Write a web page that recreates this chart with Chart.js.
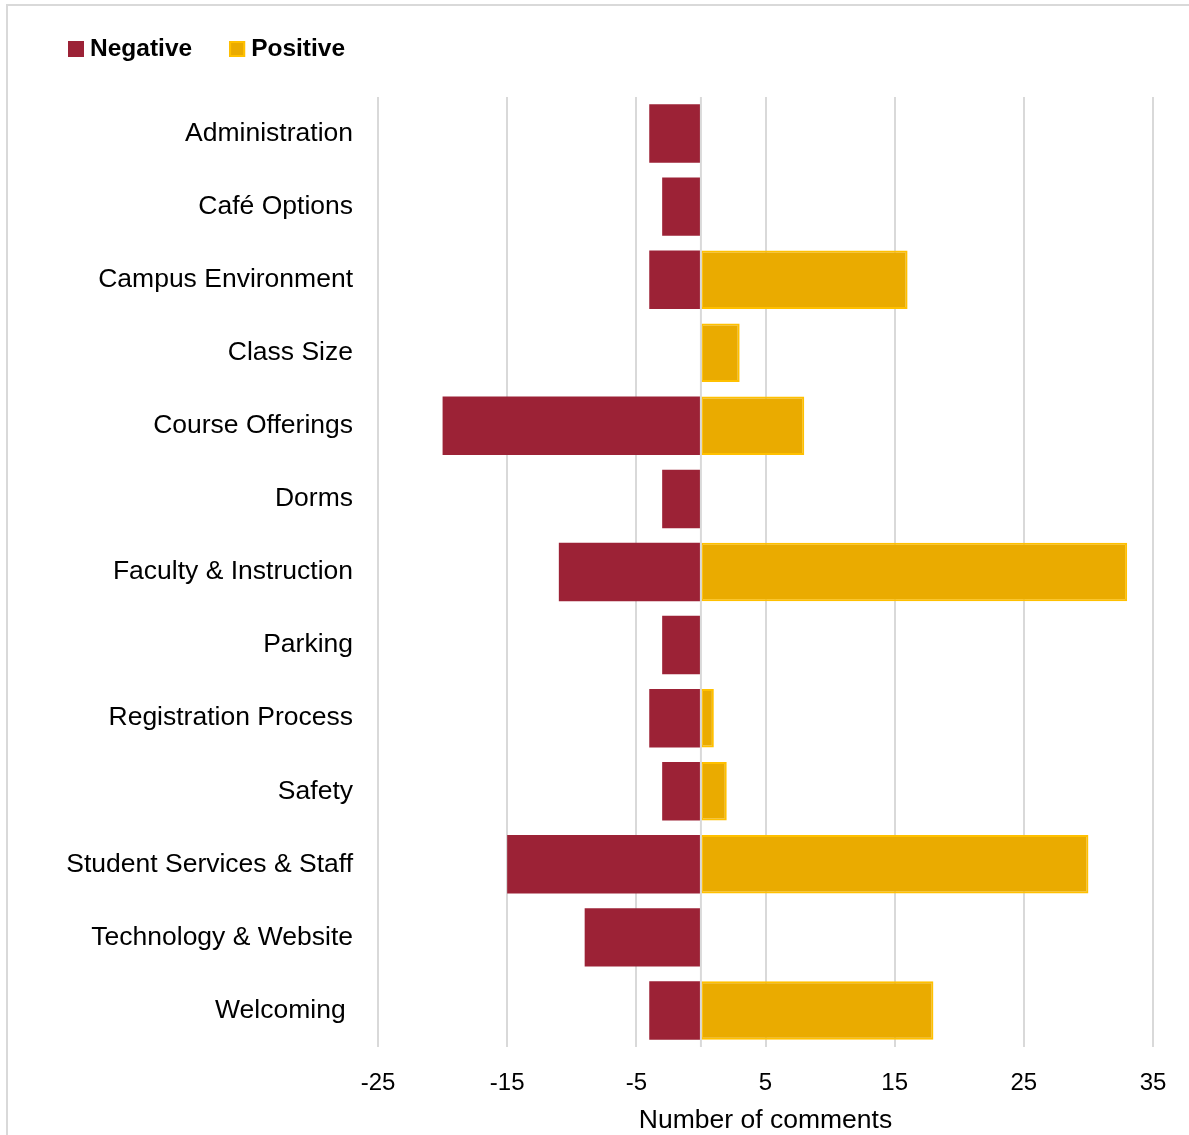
<!DOCTYPE html>
<html>
<head>
<meta charset="utf-8">
<script src="https://cdn.jsdelivr.net/npm/chart.js@4"></script>
<style>
  html, body { margin: 0; padding: 0; background: #fff; overflow: hidden; }
  #wrap { width: 1189px; height: 1135px; }
</style>
</head>
<body>
<div id="wrap"><canvas id="commentsChart" width="1189" height="1135"></canvas></div>
<script>
const categories = [
    'Administration', 'Café Options', 'Campus Environment', 'Class Size',
    'Course Offerings', 'Dorms', 'Faculty & Instruction', 'Parking',
    'Registration Process', 'Safety', 'Student Services & Staff',
    'Technology & Website', 'Welcoming '
];
const negativeCounts = [-4, -3, -4, null, -20, -3, -11, -3, -4, -3, -15, -9, -4];
const positiveCounts = [null, null, 16, 3, 8, null, 33, null, 1, 2, 30, null, 18];
const xTicks = [-25, -15, -5, 5, 15, 25, 35];

const FONT = '"Liberation Sans", Arial, sans-serif';
const GRID = '#d9d9d9';

// Light frame round the chart, like the exported picture
const framePlugin = {
    id: 'frame',
    beforeDraw(chart) {
        const ctx = chart.ctx;
        ctx.save();
        ctx.strokeStyle = GRID;
        ctx.lineWidth = 2;
        ctx.beginPath();
        ctx.moveTo(7, chart.height);
        ctx.lineTo(7, 5);
        ctx.lineTo(chart.width, 5);
        ctx.stroke();
        ctx.restore();
    }
};

// Vertical line at zero, drawn over the bars
const zeroLinePlugin = {
    id: 'zeroLine',
    afterDatasetsDraw(chart) {
        const { ctx, chartArea, scales } = chart;
        const x = scales.x.getPixelForValue(0);
        ctx.save();
        ctx.strokeStyle = GRID;
        ctx.lineWidth = 2;
        ctx.beginPath();
        ctx.moveTo(x, chartArea.top);
        ctx.lineTo(x, chartArea.bottom);
        ctx.stroke();
        ctx.restore();
    }
};

// Simple legend in the top left corner
const legendPlugin = {
    id: 'cornerLegend',
    afterDraw(chart) {
        const ctx = chart.ctx;
        ctx.save();
        ctx.font = 'bold 24.5px ' + FONT;
        ctx.textBaseline = 'middle';
        ctx.textAlign = 'left';
        let x = 68;
        const y = 49;
        chart.data.datasets.forEach(ds => {
            ctx.fillStyle = ds.backgroundColor;
            ctx.fillRect(x, y - 8, 16, 16);
            if (ds.borderWidth) {
                ctx.strokeStyle = ds.borderColor;
                ctx.lineWidth = 2;
                ctx.strokeRect(x + 1, y - 7, 14, 14);
            }
            ctx.fillStyle = '#000';
            ctx.fillText(ds.label, x + 22, y);
            x += 22 + ctx.measureText(ds.label).width + 37;
        });
        ctx.restore();
    }
};

new Chart(document.getElementById('commentsChart').getContext('2d'), {
    type: 'bar',
    data: {
        labels: categories,
        datasets: [{
            label: 'Negative',
            data: negativeCounts,
            backgroundColor: '#9c2236',
            borderWidth: 0
        }, {
            label: 'Positive',
            data: positiveCounts,
            backgroundColor: '#eaab00',
            borderColor: '#ffc000',
            borderWidth: 2,
            borderSkipped: false
        }]
    },
    options: {
        indexAxis: 'y',
        responsive: false,
        animation: false,
        layout: { padding: { left: 0, right: 36, top: 97, bottom: 0 } },
        datasets: {
            bar: { barPercentage: 0.8, categoryPercentage: 1 }
        },
        scales: {
            x: {
                stacked: true,
                min: -25,
                max: 35,
                afterBuildTicks: axis => { axis.ticks = xTicks.map(v => ({ value: v })); },
                grid: { color: GRID, lineWidth: 2, drawTicks: false },
                border: { display: false },
                ticks: {
                    color: '#000',
                    padding: 22,
                    font: { family: FONT, size: 24 }
                },
                title: {
                    display: true,
                    text: 'Number of comments',
                    color: '#000',
                    padding: 0,
                    font: { family: FONT, size: 26.5, lineHeight: 1.05 }
                },
                afterFit: axis => { axis.height = 88; }
            },
            y: {
                stacked: true,
                grid: { display: false },
                border: { display: false },
                ticks: {
                    color: '#000',
                    padding: 17,
                    font: { family: FONT, size: 26.5 }
                },
                afterFit: axis => { axis.width = 378; }
            }
        },
        plugins: {
            legend: { display: false },
            tooltip: { enabled: false }
        }
    },
    plugins: [framePlugin, zeroLinePlugin, legendPlugin]
});
</script>
</body>
</html>
